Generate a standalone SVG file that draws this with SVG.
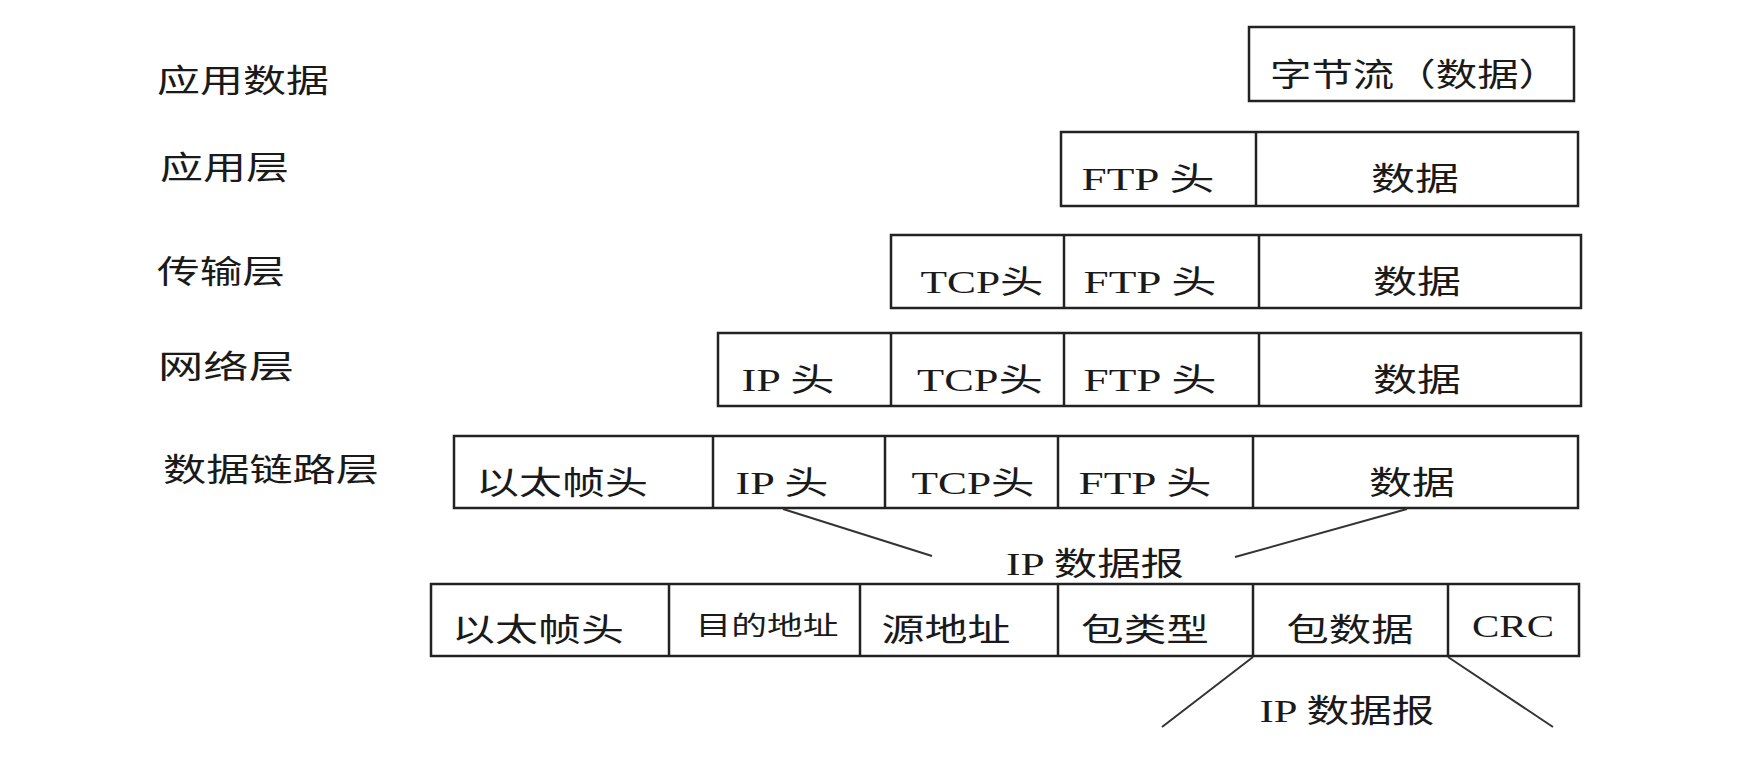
<svg xmlns="http://www.w3.org/2000/svg" width="1758" height="772" viewBox="0 0 1758 772">
<style>
.box{fill:#fff;stroke:#222;stroke-width:2.5}
.dv{stroke:#222;stroke-width:2.5}
.t{font-family:"Liberation Serif","Noto Sans CJK SC",serif;font-size:32px;fill:#1a1a1a;text-anchor:middle}
.l{font-family:"Liberation Serif","Noto Sans CJK SC",serif;font-size:32px;fill:#1a1a1a;text-anchor:start}
.s{font-size:26px}
.cn{stroke:#333;stroke-width:2}
</style>
<rect width="1758" height="772" fill="#fff"/>
<g id="labels">
<text class="l" x="157" y="92" textLength="172" lengthAdjust="spacingAndGlyphs">应用数据</text>
<text class="l" x="160" y="179" textLength="129" lengthAdjust="spacingAndGlyphs">应用层</text>
<text class="l" x="157" y="283" textLength="128" lengthAdjust="spacingAndGlyphs">传输层</text>
<text class="l" x="158" y="378" textLength="136" lengthAdjust="spacingAndGlyphs">网络层</text>
<text class="l" x="163" y="481" textLength="216" lengthAdjust="spacingAndGlyphs">数据链路层</text>
</g>
<g id="app-data">
<rect class="box" x="1249" y="27" width="325" height="74"/>
<text class="t" x="1415" y="86" textLength="290" lengthAdjust="spacingAndGlyphs">字节流（数据）</text>
</g>
<g id="app-layer">
<rect class="box" x="1061" y="132" width="517" height="74"/>
<line class="dv" x1="1256" y1="132" x2="1256" y2="206"/>
<text class="t" x="1148" y="190" textLength="133" lengthAdjust="spacingAndGlyphs">FTP 头</text>
<text class="t" x="1415" y="190" textLength="88" lengthAdjust="spacingAndGlyphs">数据</text>
</g>
<g id="transport-layer">
<rect class="box" x="891" y="235" width="690" height="73"/>
<line class="dv" x1="1064" y1="235" x2="1064" y2="308"/>
<line class="dv" x1="1259" y1="235" x2="1259" y2="308"/>
<text class="t" x="982" y="293" textLength="123" lengthAdjust="spacingAndGlyphs">TCP头</text>
<text class="t" x="1150" y="293" textLength="133" lengthAdjust="spacingAndGlyphs">FTP 头</text>
<text class="t" x="1417" y="293" textLength="88" lengthAdjust="spacingAndGlyphs">数据</text>
</g>
<g id="network-layer">
<rect class="box" x="718" y="333" width="863" height="73"/>
<line class="dv" x1="891" y1="333" x2="891" y2="406"/>
<line class="dv" x1="1064" y1="333" x2="1064" y2="406"/>
<line class="dv" x1="1259" y1="333" x2="1259" y2="406"/>
<text class="t" x="788" y="391" textLength="93" lengthAdjust="spacingAndGlyphs">IP 头</text>
<text class="t" x="980" y="391" textLength="126" lengthAdjust="spacingAndGlyphs">TCP头</text>
<text class="t" x="1150" y="391" textLength="133" lengthAdjust="spacingAndGlyphs">FTP 头</text>
<text class="t" x="1417" y="391" textLength="88" lengthAdjust="spacingAndGlyphs">数据</text>
</g>
<g id="datalink-layer">
<rect class="box" x="454" y="436" width="1124" height="72"/>
<line class="dv" x1="713" y1="436" x2="713" y2="508"/>
<line class="dv" x1="885" y1="436" x2="885" y2="508"/>
<line class="dv" x1="1058" y1="436" x2="1058" y2="508"/>
<line class="dv" x1="1253" y1="436" x2="1253" y2="508"/>
<text class="t" x="562" y="494" textLength="172" lengthAdjust="spacingAndGlyphs">以太帧头</text>
<text class="t" x="782" y="494" textLength="93" lengthAdjust="spacingAndGlyphs">IP 头</text>
<text class="t" x="973" y="494" textLength="123" lengthAdjust="spacingAndGlyphs">TCP头</text>
<text class="t" x="1145" y="494" textLength="133" lengthAdjust="spacingAndGlyphs">FTP 头</text>
<text class="t" x="1412" y="494" textLength="86" lengthAdjust="spacingAndGlyphs">数据</text>
</g>
<g id="ip-datagram-label">
<text class="t" x="1095" y="575" textLength="178" lengthAdjust="spacingAndGlyphs">IP 数据报</text>
</g>
<g id="ethernet-frame">
<rect class="box" x="431" y="584" width="1148" height="72"/>
<line class="dv" x1="669" y1="584" x2="669" y2="656"/>
<line class="dv" x1="860" y1="584" x2="860" y2="656"/>
<line class="dv" x1="1058" y1="584" x2="1058" y2="656"/>
<line class="dv" x1="1253" y1="584" x2="1253" y2="656"/>
<line class="dv" x1="1448" y1="584" x2="1448" y2="656"/>
<text class="t" x="538" y="641" textLength="172" lengthAdjust="spacingAndGlyphs">以太帧头</text>
<text class="t s" x="767" y="635" textLength="143" lengthAdjust="spacingAndGlyphs">目的地址</text>
<text class="t" x="946" y="641" textLength="129" lengthAdjust="spacingAndGlyphs">源地址</text>
<text class="t" x="1145" y="641" textLength="128" lengthAdjust="spacingAndGlyphs">包类型</text>
<text class="t" x="1350" y="641" textLength="127" lengthAdjust="spacingAndGlyphs">包数据</text>
<text class="t" x="1513" y="637" textLength="82" lengthAdjust="spacingAndGlyphs">CRC</text>
</g>
<g id="ip-datagram-label-2">
<text class="t" x="1347" y="722" textLength="175" lengthAdjust="spacingAndGlyphs">IP 数据报</text>
</g>
<g id="connectors">
<line class="cn" x1="783" y1="509" x2="932" y2="556"/>
<line class="cn" x1="1407" y1="509" x2="1235" y2="557"/>
<line class="cn" x1="1253" y1="657" x2="1162" y2="727"/>
<line class="cn" x1="1448" y1="657" x2="1553" y2="727"/>
</g>
</svg>
